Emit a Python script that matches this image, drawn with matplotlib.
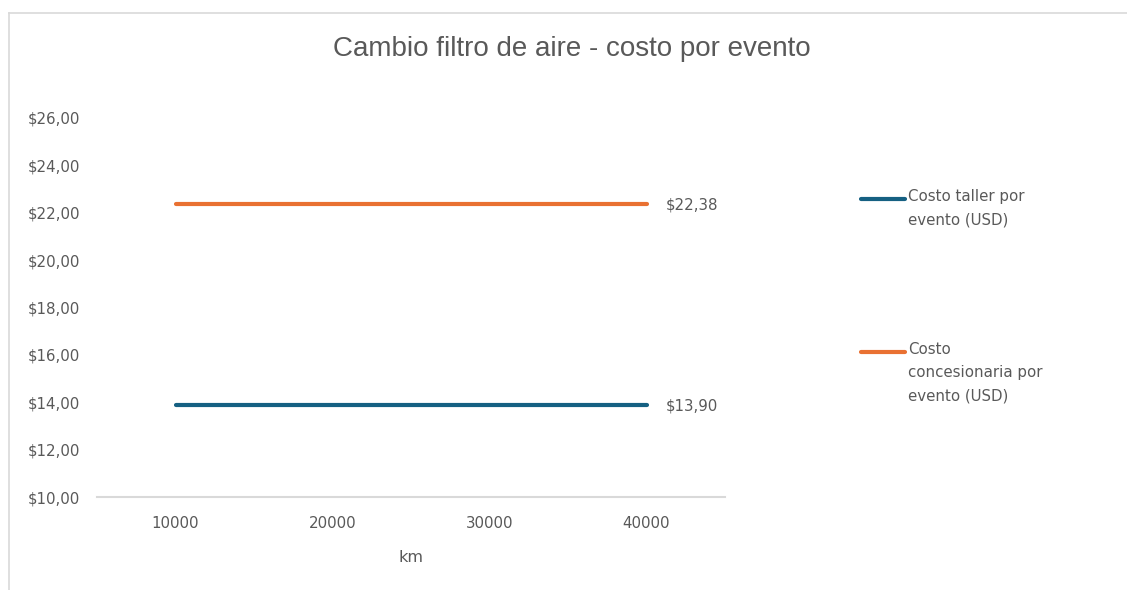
import matplotlib
matplotlib.use("Agg")
import matplotlib.pyplot as plt
from matplotlib.lines import Line2D

km = [10000, 20000, 30000, 40000]
costo_taller = [13.90, 13.90, 13.90, 13.90]
costo_concesionaria = [22.38, 22.38, 22.38, 22.38]
series_names = ["Costo taller por\nevento (USD)", "Costo\nconcesionaria por\nevento (USD)"]
y_ticks = [10, 12, 14, 16, 18, 20, 22, 24, 26]

BLUE = "#156082"
ORANGE = "#E97132"
GREY = "#595959"
TITLE_FONT = "Liberation Sans"
FONT = "DejaVu Sans"
SMALL = 10.8

W, H = 1127, 590
fig = plt.figure(figsize=(W / 100, H / 100), dpi=100)
fig.patch.set_facecolor("white")

# chart frame (top and left edges visible)
fig.add_artist(Line2D([9 / W, 1], [1 - 13 / H, 1 - 13 / H], color="#d9d9d9", lw=1.2))
fig.add_artist(Line2D([9 / W, 9 / W], [0, 1 - 13 / H], color="#d9d9d9", lw=1.2))

ax = fig.add_axes([97 / W, 93 / H, (725 - 97) / W, (497 - 118) / H])
ax.plot(km, costo_taller, color=BLUE, lw=3, solid_capstyle="round")
ax.plot(km, costo_concesionaria, color=ORANGE, lw=3, solid_capstyle="round")

ax.set_xlim(5000, 45000)
ax.set_ylim(y_ticks[0], y_ticks[-1])
ax.set_xticks(km)
ax.set_xticklabels([str(k) for k in km], fontsize=SMALL, color=GREY, family=FONT)
ax.set_yticks(y_ticks)
ax.set_yticklabels([f"${v:.2f}".replace(".", ",") for v in y_ticks],
                   fontsize=SMALL, color=GREY, family=FONT)
ax.tick_params(axis="both", length=0)
ax.tick_params(axis="x", pad=14)
ax.tick_params(axis="y", pad=12)
for side in ["top", "right", "left"]:
    ax.spines[side].set_visible(False)
ax.spines["bottom"].set_color("#d9d9d9")
ax.spines["bottom"].set_linewidth(1.5)
ax.set_xlabel("km", fontsize=11.5, color=GREY, family=FONT, labelpad=13)

# value labels at the last point
for vals in (costo_taller, costo_concesionaria):
    ax.annotate(f"${vals[-1]:.2f}".replace(".", ","), xy=(km[-1], vals[-1]),
                xytext=(14, -1), textcoords="offset points", va="center", ha="left",
                fontsize=SMALL, color=GREY, family=FONT)

fig.text(572 / W, 1 - 49 / H, "Cambio filtro de aire - costo por evento",
         ha="center", va="center", fontsize=20, color=GREY, family=TITLE_FONT)

# legend
legend_y = [199, 352]
for name, color, y in zip(series_names, (BLUE, ORANGE), legend_y):
    fig.add_artist(Line2D([861 / W, 905 / W], [1 - y / H, 1 - y / H], color=color, lw=3,
                          solid_capstyle="round"))
    fig.text(908 / W, 1 - (y - 10) / H, name, ha="left", va="top", fontsize=SMALL,
             color=GREY, family=FONT, linespacing=1.7)

fig.savefig("out.png", dpi=100, facecolor="white")
